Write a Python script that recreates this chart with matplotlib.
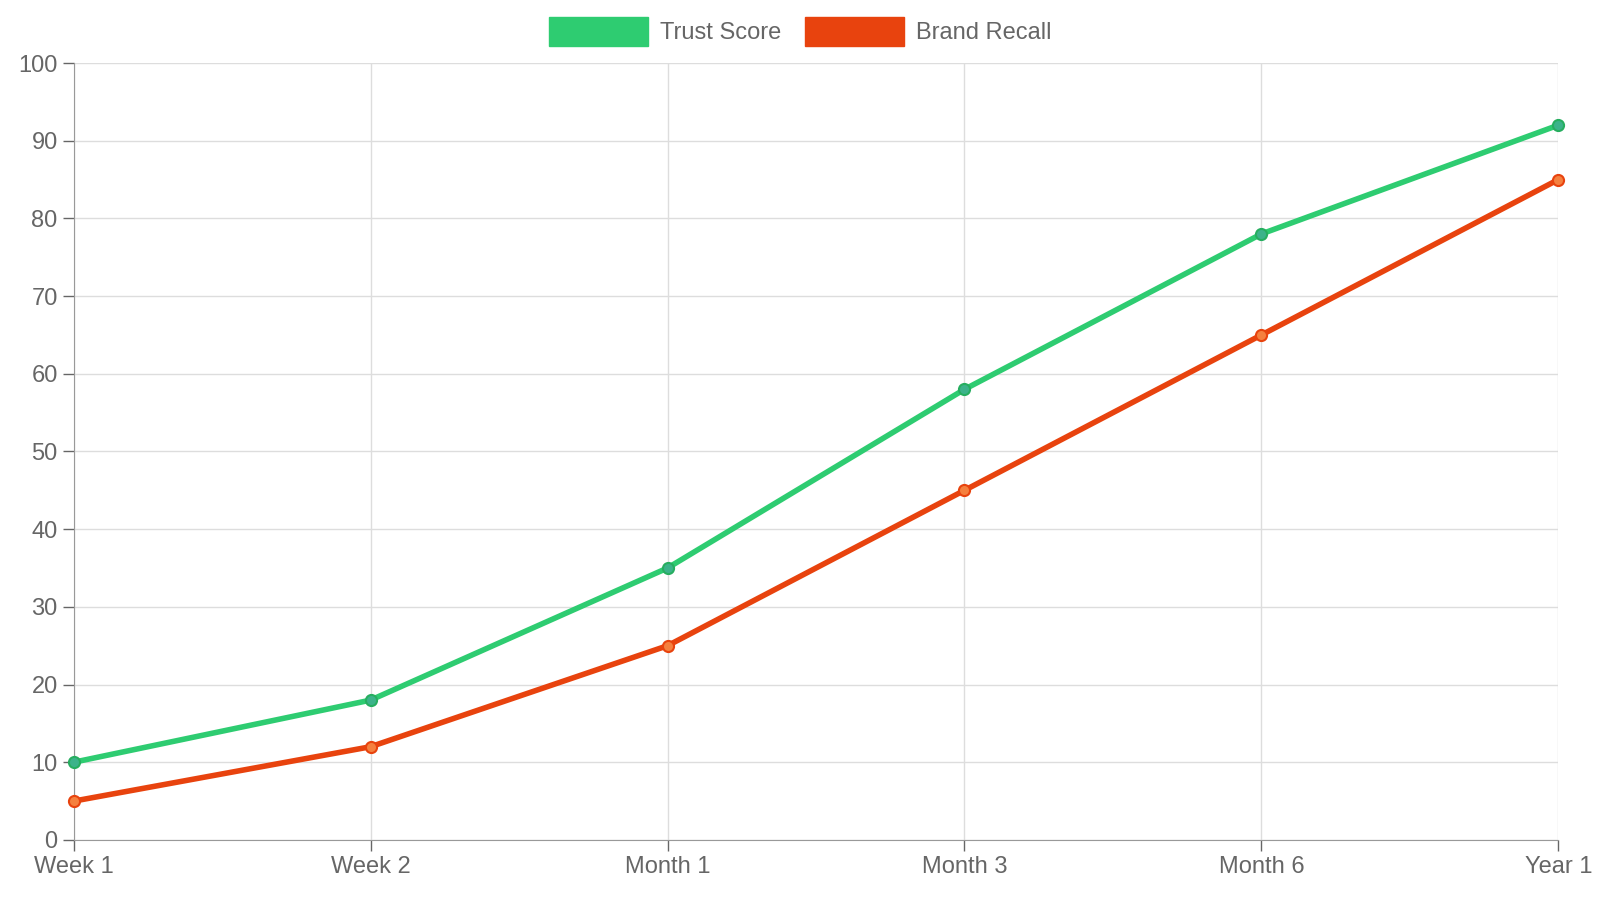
import matplotlib
matplotlib.use("Agg")
import matplotlib.pyplot as plt
from matplotlib.patches import Patch

categories = ["Week 1", "Week 2", "Month 1", "Month 3", "Month 6", "Year 1"]
trust_score = [10, 18, 35, 58, 78, 92]
brand_recall = [5, 12, 25, 45, 65, 85]

plt.rcParams['font.family'] = ['Liberation Sans', 'DejaVu Sans']
fig = plt.figure(figsize=(16, 9), dpi=100)
ax = fig.add_axes([0.046, 0.0667, 0.928, 0.8633])
x = list(range(len(categories)))
green, orange = "#2ecc71", "#e8430e"
ax.plot(x, trust_score, color=green, lw=4, marker='o', ms=8,
        mfc="#3cb38a", mec="#27ae60", mew=1.5, zorder=3, clip_on=False)
ax.plot(x, brand_recall, color=orange, lw=4, marker='o', ms=8,
        mfc="#f5803e", mec="#e8430e", mew=1.5, zorder=3, clip_on=False)
ax.set_xlim(0, len(categories) - 1)
ax.set_ylim(0, 100)
ax.set_yticks(range(0, 101, 10))
ax.set_xticks(x)
ax.set_xticklabels(categories)
ax.grid(True, color="#dddddd", lw=1)
ax.tick_params(colors="#666666", labelsize=17, length=8, width=1)
for s in ["top", "right"]:
    ax.spines[s].set_visible(False)
for s in ["left", "bottom"]:
    ax.spines[s].set_color("#999999")
handles = [Patch(color=green, label="Trust Score"), Patch(color=orange, label="Brand Recall")]
fig.legend(handles=handles, loc="center", bbox_to_anchor=(0.5, 0.965), ncol=2,
           frameon=False, fontsize=17, handlelength=4.2, handleheight=1.5,
           labelcolor="#666666", columnspacing=1.0, handletextpad=0.5)
fig.savefig("out.png")
